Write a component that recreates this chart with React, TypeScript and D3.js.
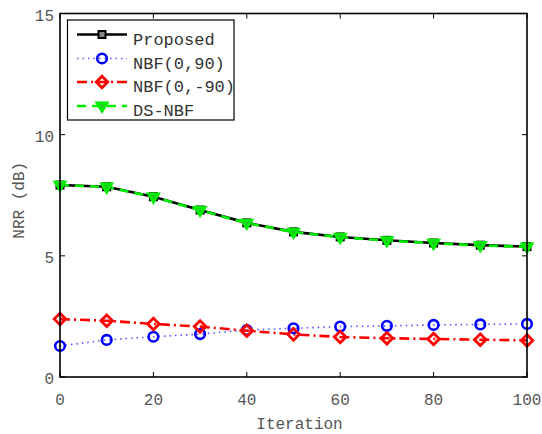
import React from "react";
import * as d3 from "d3";

const iterations = [0, 10, 20, 30, 40, 50, 60, 70, 80, 90, 100];
const proposed = [7.92, 7.85, 7.44, 6.89, 6.36, 5.99, 5.78, 5.64, 5.53, 5.44, 5.38];
const nbf090 = [1.28, 1.53, 1.66, 1.77, 1.94, 2.01, 2.08, 2.11, 2.15, 2.17, 2.19];
const nbf0m90 = [2.39, 2.32, 2.19, 2.08, 1.91, 1.76, 1.65, 1.6, 1.57, 1.54, 1.51];
const dsnbf = [7.92, 7.84, 7.43, 6.88, 6.35, 5.98, 5.77, 5.63, 5.52, 5.43, 5.37];

const xTicks = [0, 20, 40, 60, 80, 100];
const yTicks = [0, 5, 10, 15];
const seriesNames = ["Proposed", "NBF(0,90)", "NBF(0,-90)", "DS-NBF"];

const W = 542;
const H = 434;
const left = 60;
const right = 527;
const top = 13.5;
const bottom = 377;
const font = "'Liberation Mono', 'DejaVu Sans Mono', monospace";

type Marker = "square" | "circle" | "diamond" | "triangle";

const styles: { color: string; dash: string; width: number; marker: Marker; lineColor: string }[] = [
  { color: "#000", lineColor: "#000", dash: "", width: 2.6, marker: "square" },
  { color: "#0000ff", lineColor: "#5555ff", dash: "1.5 4", width: 1.6, marker: "circle" },
  { color: "#ff0000", lineColor: "#ff0000", dash: "10 4 2 4", width: 2.6, marker: "diamond" },
  { color: "#00ee00", lineColor: "#00ee00", dash: "9 6", width: 2.6, marker: "triangle" },
];

function MarkerShape({ type, x, y, color }: { type: Marker; x: number; y: number; color: string }) {
  if (type === "square") {
    return <rect x={x - 3.5} y={y - 3.5} width={7} height={7} fill="#888" stroke={color} strokeWidth={2} />;
  }
  if (type === "circle") {
    return <circle cx={x} cy={y} r={4.8} fill="none" stroke={color} strokeWidth={2.6} />;
  }
  if (type === "diamond") {
    const s = 5.8;
    return (
      <path
        d={`M${x},${y - s}L${x + s},${y}L${x},${y + s}L${x - s},${y}Z`}
        fill="none"
        stroke={color}
        strokeWidth={2.8}
      />
    );
  }
  const s = 5.2;
  return (
    <path
      d={`M${x - s},${y - s * 0.6}L${x + s},${y - s * 0.6}L${x},${y + s * 1.05}Z`}
      fill="#22cc22"
      stroke={color}
      strokeWidth={2.6}
      strokeLinejoin="miter"
    />
  );
}

export default function App() {
  const x = d3.scaleLinear().domain([0, 100]).range([left, right]);
  const y = d3.scaleLinear().domain([0, 15]).range([bottom, top]);
  const data = [proposed, nbf090, nbf0m90, dsnbf];
  const line = d3
    .line<number>()
    .x((_, i) => x(iterations[i]))
    .y((d) => y(d));

  const legendX = 67.5;
  const legendY = 20;
  const legendRows = [34.5, 58.5, 82, 106];

  return (
    <svg width={W} height={H} style={{ position: "absolute", left: 0, top: 0, background: "#fff" }}>
      <rect x={0} y={0} width={W} height={H} fill="#fff" />
      {/* series lines */}
      {data.map((vals, si) => (
        <path
          key={`l${si}`}
          d={line(vals) || ""}
          fill="none"
          stroke={styles[si].lineColor}
          strokeWidth={styles[si].width}
          strokeDasharray={styles[si].dash}
        />
      ))}
      {/* series markers */}
      {data.map((vals, si) =>
        vals.map((v, i) => (
          <MarkerShape key={`m${si}-${i}`} type={styles[si].marker} x={x(iterations[i])} y={y(v)} color={styles[si].color} />
        ))
      )}
      {/* axes frame */}
      <rect x={left} y={top} width={right - left} height={bottom - top} fill="none" stroke="#000" strokeWidth={1.6} />
      {xTicks.map((t) => (
        <g key={`xt${t}`}>
          <line x1={x(t)} x2={x(t)} y1={bottom} y2={bottom - 5} stroke="#000" strokeWidth={1} />
          <line x1={x(t)} x2={x(t)} y1={top} y2={top + 5} stroke="#000" strokeWidth={1} />
          <text
            x={x(t)}
            y={bottom + 28}
            textAnchor="middle"
            fontFamily={font}
            fontSize={16}
            fill="#555"
          >
            {t}
          </text>
        </g>
      ))}
      {yTicks.map((t) => (
        <g key={`yt${t}`}>
          <line x1={left} x2={left + 5} y1={y(t)} y2={y(t)} stroke="#000" strokeWidth={1} />
          <line x1={right} x2={right - 5} y1={y(t)} y2={y(t)} stroke="#000" strokeWidth={1} />
          <text
            x={left - 6}
            y={y(t) + 7}
            textAnchor="end"
            fontFamily={font}
            fontSize={16}
            fill="#555"
          >
            {t}
          </text>
        </g>
      ))}
      <text x={(left + right) / 2 + 6} y={429} textAnchor="middle" fontFamily={font} fontSize={16} fill="#555">
        Iteration
      </text>
      <text
        transform={`translate(24,${(top + bottom) / 2 + 5}) rotate(-90)`}
        textAnchor="middle"
        fontFamily={font}
        fontSize={16}
        fill="#555"
      >
        NRR (dB)
      </text>
      {/* legend */}
      <rect x={legendX} y={legendY} width={166.5} height={100} fill="#fff" stroke="#000" strokeWidth={1.2} />
      {seriesNames.map((name, i) => (
        <g key={`lg${i}`}>
          <line
            x1={77}
            x2={127}
            y1={legendRows[i]}
            y2={legendRows[i]}
            stroke={styles[i].lineColor}
            strokeWidth={styles[i].width}
            strokeDasharray={styles[i].dash}
          />
          <MarkerShape type={styles[i].marker} x={102} y={legendRows[i]} color={styles[i].color} />
          <text x={133} y={legendRows[i] + 10} fontFamily={font} fontSize={17} fill="#333">
            {name}
          </text>
        </g>
      ))}
    </svg>
  );
}
